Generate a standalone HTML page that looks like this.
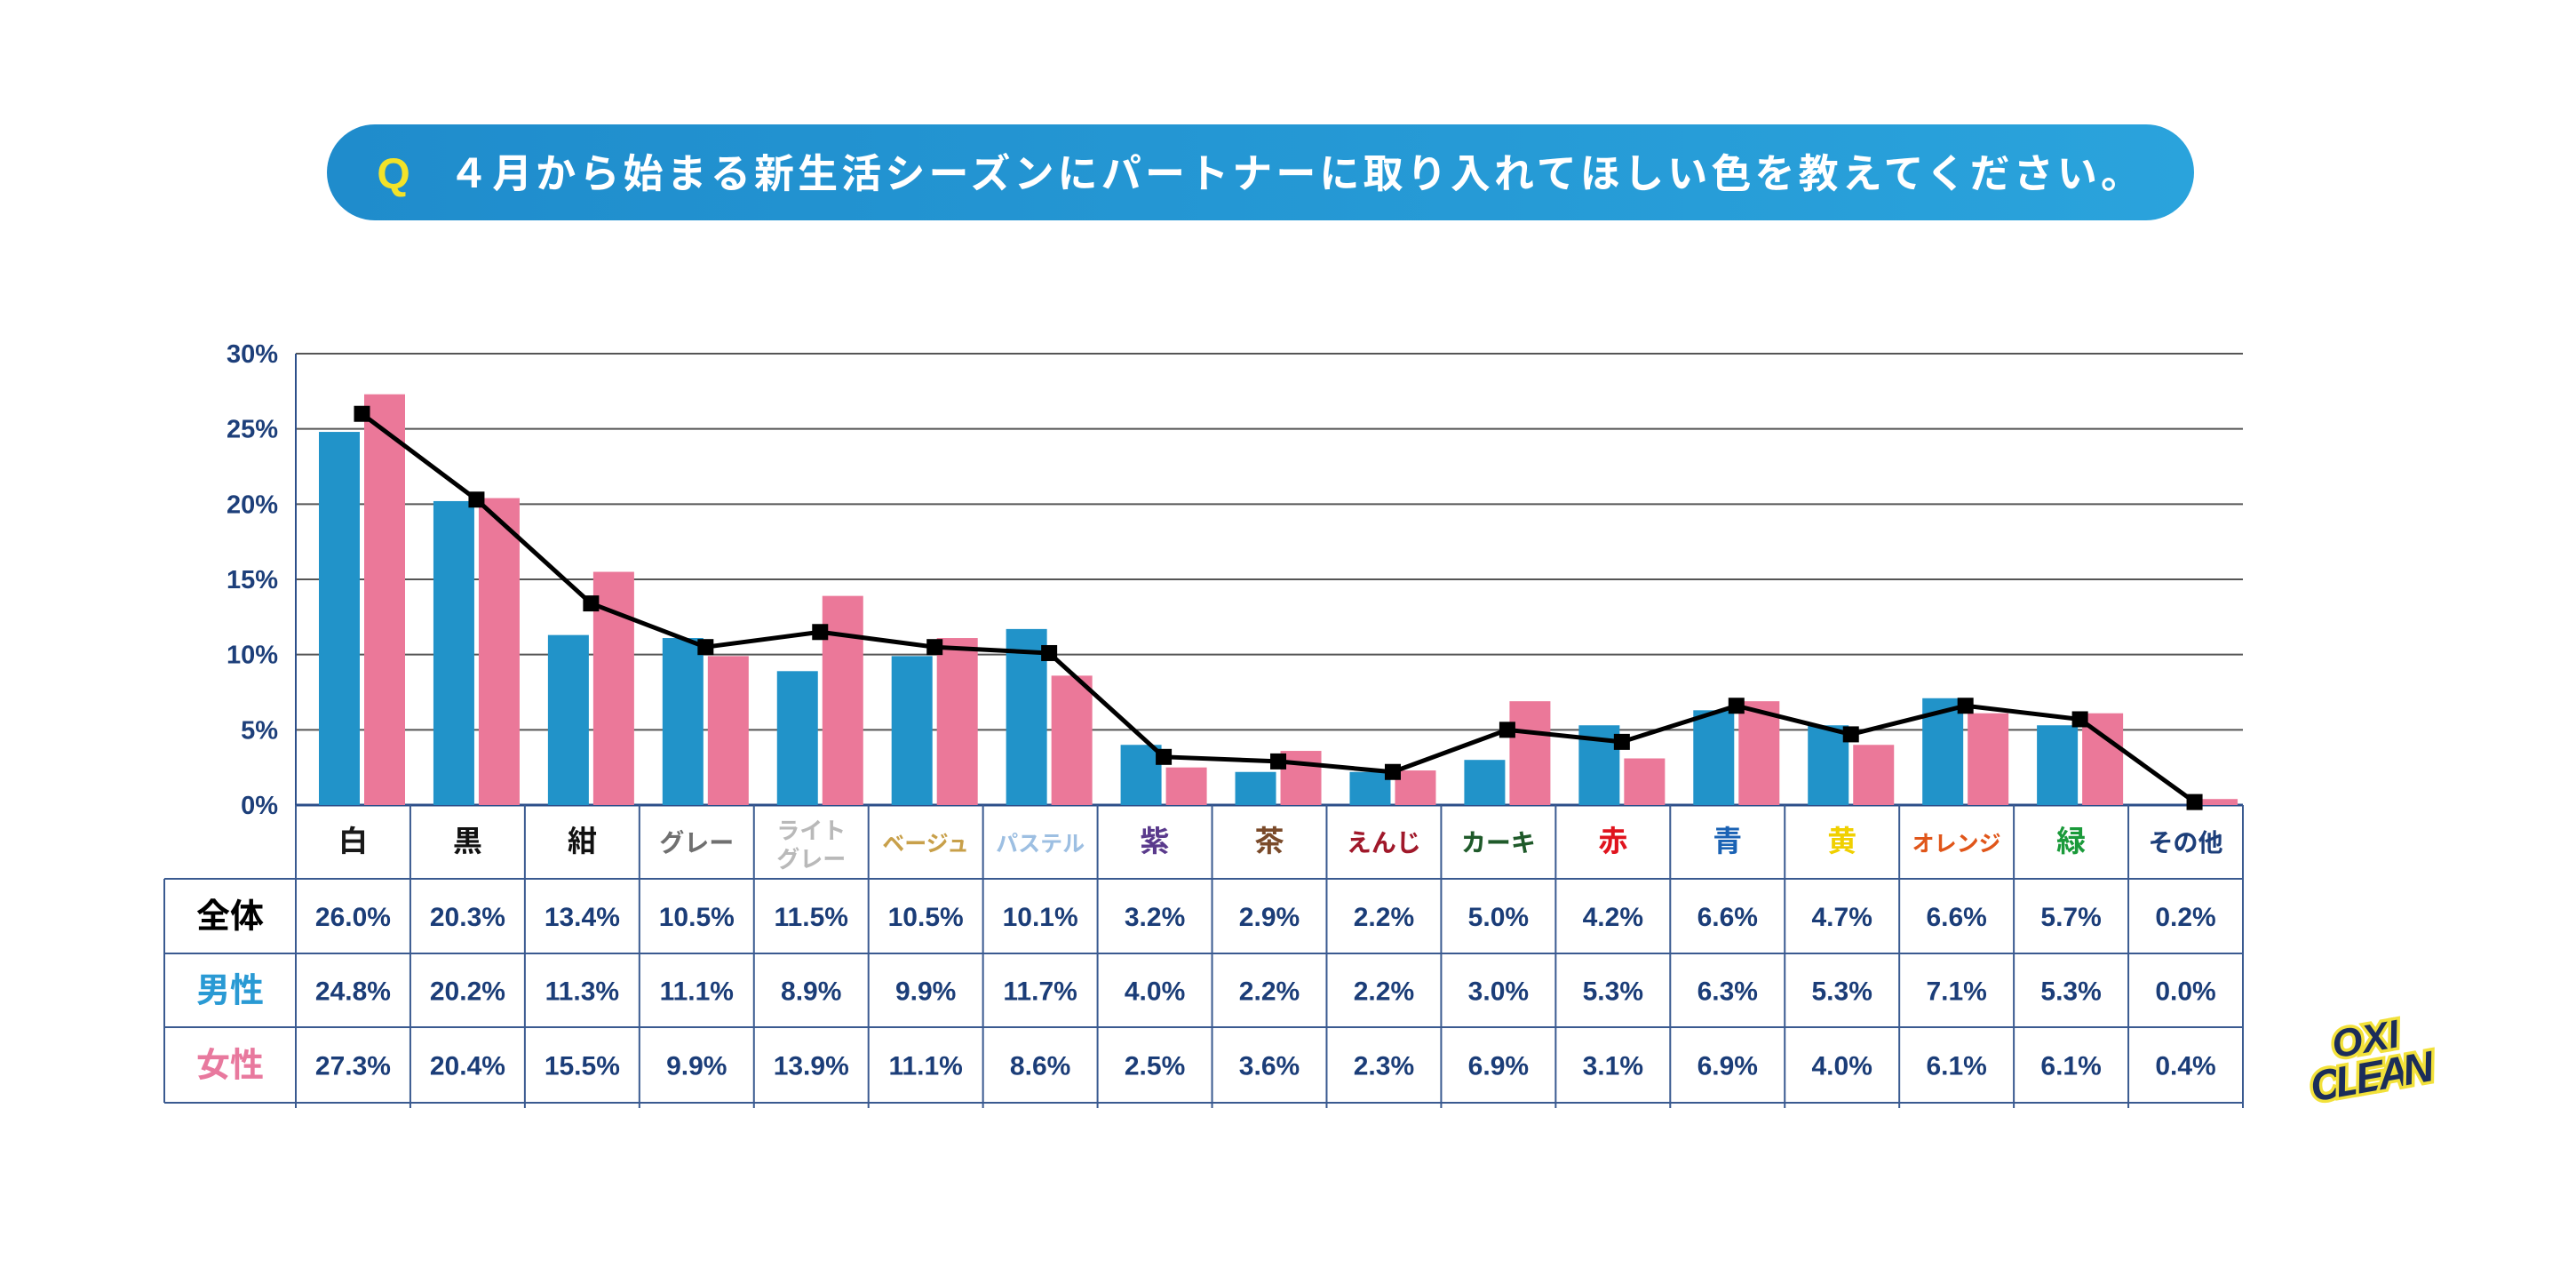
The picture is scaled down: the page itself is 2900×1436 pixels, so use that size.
<!DOCTYPE html>
<html lang="ja"><head><meta charset="utf-8">
<style>
html,body{margin:0;padding:0;background:#fff;}
body{width:2900px;height:1431px;overflow:hidden;position:relative;font-family:"Liberation Sans","Noto Sans CJK JP",sans-serif;}
svg text{font-family:"Liberation Sans","Noto Sans CJK JP",sans-serif;}
</style></head>
<body>
<svg id="chart" width="2900" height="1431" viewBox="0 0 2900 1431" xmlns="http://www.w3.org/2000/svg">
<defs>
<linearGradient id="pillg" x1="0" x2="1" y1="0" y2="0">
<stop offset="0" stop-color="#1f8ccc"/><stop offset="1" stop-color="#2aa3dc"/>
</linearGradient>
</defs>
<g>
<rect x="368" y="140" width="2102" height="108" rx="54" fill="url(#pillg)"/>
<text x="443" y="212" font-size="48" font-weight="bold" fill="#f3e229" text-anchor="middle">Q</text>
<text x="505" y="211" font-size="45" font-weight="bold" fill="#ffffff" textLength="1905" lengthAdjust="spacing">４月から始まる新生活シーズンにパートナーに取り入れてほしい色を教えてください。</text>
</g>
<g id="grid"></g>
<g id="yticks"></g>
<g id="bars"></g>
<g id="line"></g>
<g id="table"></g>
<g transform="translate(2668,1198) rotate(-10)">
<text x="0" y="-14" font-size="44" font-weight="bold" font-style="italic" fill="#1b2d5a" stroke="#f2e13a" stroke-width="7" paint-order="stroke" text-anchor="middle">OXI</text>
<text x="0" y="30" font-size="48" font-weight="bold" font-style="italic" fill="#1b2d5a" stroke="#f2e13a" stroke-width="7" paint-order="stroke" text-anchor="middle" textLength="140">CLEAN</text>
</g>
</svg>
<script>
const categories = ["白","黒","紺","グレー","ライト|グレー","ベージュ","パステル","紫","茶","えんじ","カーキ","赤","青","黄","オレンジ","緑","その他"];
const catColors = ["#1a1a1a","#111","#111","#707070","#b9b9b9","#c8a04a","#9dbfe2","#5a3a8c","#7a4a2a","#a0182a","#1f5a2a","#e0141e","#1a62b4","#f0d000","#e0561a","#1a9a3a","#1d3f7a"];
const overall = [26.0,20.3,13.4,10.5,11.5,10.5,10.1,3.2,2.9,2.2,5.0,4.2,6.6,4.7,6.6,5.7,0.2];
const male = [24.8,20.2,11.3,11.1,8.9,9.9,11.7,4.0,2.2,2.2,3.0,5.3,6.3,5.3,7.1,5.3,0.0];
const female = [27.3,20.4,15.5,9.9,13.9,11.1,8.6,2.5,3.6,2.3,6.9,3.1,6.9,4.0,6.1,6.1,0.4];
const yTicks = [0,5,10,15,20,25,30];

const NS="http://www.w3.org/2000/svg";
const L=333,R=2525,T=398,B=906,MAX=30;
const cw=(R-L)/categories.length;
const y=v=>B-(v/MAX)*(B-T);
const x=i=>L+i*cw;
function mk(tag,attrs,parent){const e=document.createElementNS(NS,tag);for(const k in attrs)e.setAttribute(k,attrs[k]);parent.appendChild(e);return e;}
const grid=document.getElementById('grid'),yt=document.getElementById('yticks'),bars=document.getElementById('bars'),line=document.getElementById('line'),tbl=document.getElementById('table');

yTicks.forEach(t=>{
  const g=mk('line',{x1:L,x2:R,y1:y(t),y2:y(t),stroke:t===0?'#2d4f8a':'#555','stroke-width':t===0?3:2},grid);
  
  
  const tx=mk('text',{x:L-20,y:y(t)+10,'font-size':29,'font-weight':'bold',fill:'#1d3f7a','text-anchor':'end'},yt);
  tx.textContent=t+'%';
  
  
});
const ax=mk('line',{x1:L,x2:L,y1:T,y2:B,stroke:'#2d4f8a','stroke-width':2},grid);



const bw=46,off=26,gap=5;
categories.forEach((c,i)=>{
  const bm=mk('rect',{x:x(i)+off,y:y(male[i]),width:bw,height:B-y(male[i]),fill:'#2193c9'},bars);
  
  
  const bf=mk('rect',{x:x(i)+off+bw+gap,y:y(female[i]),width:bw,height:B-y(female[i]),fill:'#eb7899'},bars);
  
  
});
const px=i=>x(i)+off+bw+gap/2;
const pts=overall.map((v,i)=>px(i)+','+y(v)).join(' ');
const pl=mk('polyline',{points:pts,fill:'none',stroke:'#000','stroke-width':5,'stroke-linejoin':'round'},line);


overall.forEach((v,i)=>{
  const m=mk('rect',{x:px(i)-9,y:y(v)-9,width:18,height:18,fill:'#000'},line);
  
  
});

const rows=[B,989,1073,1156,1241];
const TL=185, lc='#3a5a90';
const rowLabels=[["全体","#000"],["男性","#2a9ad4"],["女性","#e8799e"]];
const rowData=[overall,male,female];
function ln(x1,y1,x2,y2,w){const e=mk('line',{x1,y1,x2,y2,stroke:lc,'stroke-width':w||2},tbl);}
for(let r=1;r<rows.length;r++) ln(TL,rows[r],R,rows[r]);
ln(TL,rows[1],TL,rows[4]);
for(let i=0;i<=categories.length;i++) ln(x(i),B,x(i),rows[4]+6);
categories.forEach((c,i)=>{
  const cx=x(i)+cw/2;
  const parts=c.split('|');
  const fs=parts.length>1?26:(c.length>=4?25:(c.length===3?28:33));
  parts.forEach((p,k)=>{
    const yy=parts.length>1?(B+38+k*32):(B+52);
    const t=mk('text',{x:cx,y:yy,'font-size':fs,'font-weight':'bold',fill:catColors[i],'text-anchor':'middle'},tbl);
    t.textContent=p;
    
    
  });
  rowData.forEach((arr,r)=>{
    const t=mk('text',{x:cx,y:(rows[r+1]+rows[r+2])/2+11,'font-size':30,'font-weight':'bold',fill:'#1b3d78','text-anchor':'middle'},tbl);
    t.textContent=arr[i].toFixed(1)+'%';
    
    
  });
});
rowLabels.forEach((rl,r)=>{
  const t=mk('text',{x:(TL+L)/2,y:(rows[r+1]+rows[r+2])/2+13,'font-size':38,'font-weight':'bold',fill:rl[1],'text-anchor':'middle'},tbl);
  t.textContent=rl[0];
  
  
});
</script>
</body></html>
